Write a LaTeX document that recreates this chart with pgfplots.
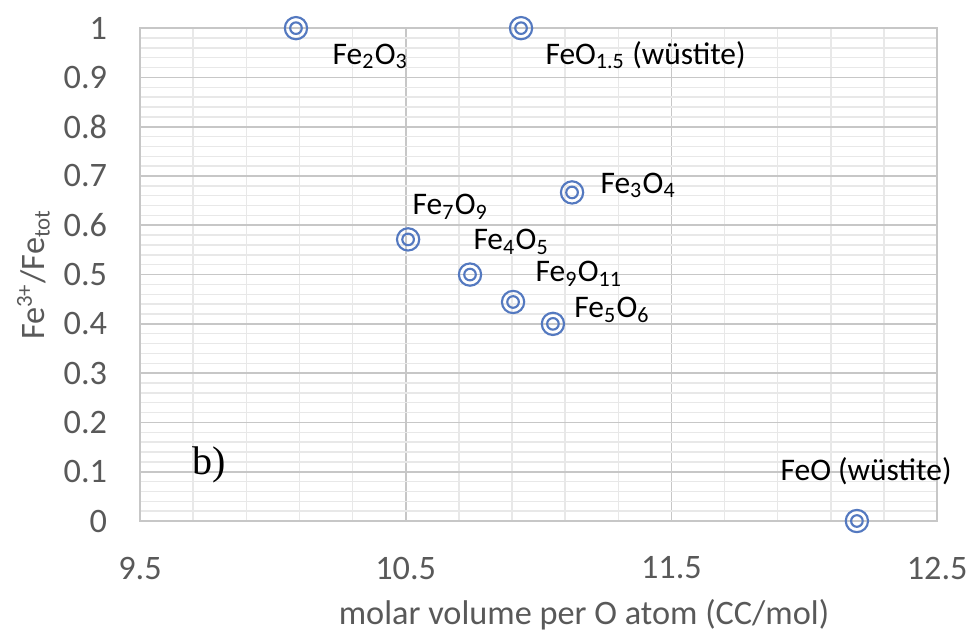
\documentclass[border=0pt]{standalone}
\usepackage{pgfplots}
\pgfplotsset{compat=1.18}
\usepackage{fontspec}
\setmainfont{Carlito}
\newfontfamily\serifb{Liberation Serif}
\usepackage{xcolor}
\definecolor{mblue}{HTML}{5479C0}
\definecolor{tickgray}{HTML}{595959}

\pgfdeclareplotmark{dcirc}{%
  \pgfpathcircle{\pgfpoint{0pt}{0pt}}{\pgfplotmarksize}\pgfusepathqstroke
  \pgfpathcircle{\pgfpoint{0pt}{0pt}}{0.52\pgfplotmarksize}\pgfusepathqstroke}

\begin{document}
\begin{tikzpicture}
\path[use as bounding box] (-49pt,-40.6pt) rectangle (290.5pt,182.35pt);
\begin{axis}[
  scale only axis, width=279pt, height=172.5pt,
  xmin=9.5, xmax=12.5, ymin=0, ymax=1,
  xtick={9.5,10.5,11.5,12.5}, ytick={0,0.1,...,1.01},
  minor x tick num=4, minor y tick num=4,
  grid=both,
  major grid style={color=black!22, line width=0.6pt},
  minor grid style={color=black!9, line width=0.5pt},
  axis line style={draw=black!22, line width=0.6pt},
  tick style={draw=none},
  tick label style={font=\fontsize{12}{14}\selectfont, text=tickgray},
  /pgf/number format/assume math mode=true,
  yticklabel style={xshift=-8pt},
  xticklabel style={yshift=-9pt},
  xlabel={molar volume per O atom (CC/mol)},
  ylabel={Fe\textsuperscript{3+}/Fe\textsubscript{tot}},
  label style={font=\fontsize{12}{14}\selectfont, text=tickgray},
  xlabel style={at={(rel axis cs:0.557,0)}, anchor=north, yshift=-24pt},
  ylabel style={yshift=-2pt},
  clip=false,
]
\addplot[only marks, mark=dcirc, mark size=3.9pt, mblue, line width=0.75pt] coordinates {
  (10.087,1) (10.934,1) (11.126,0.6667) (10.509,0.5714) (10.742,0.5)
  (10.904,0.4444) (11.054,0.4) (12.198,0)
};
\begin{scope}[font=\fontsize{11}{13}\selectfont]
\node[anchor=base west, inner sep=0pt] at (axis cs:10.223,0.927) {Fe\textsubscript{2}O\textsubscript{3}};
\node[anchor=base west, inner sep=0pt] at (axis cs:11.024,0.927) {FeO\textsubscript{1.5} (wüstite)};
\node[anchor=base west, inner sep=0pt] at (axis cs:11.231,0.665) {Fe\textsubscript{3}O\textsubscript{4}};
\node[anchor=base west, inner sep=0pt] at (axis cs:10.524,0.621) {Fe\textsubscript{7}O\textsubscript{9}};
\node[anchor=base west, inner sep=0pt] at (axis cs:10.753,0.550) {Fe\textsubscript{4}O\textsubscript{5}};
\node[anchor=base west, inner sep=0pt] at (axis cs:10.987,0.485) {Fe\textsubscript{9}O\textsubscript{11}};
\node[anchor=base west, inner sep=0pt] at (axis cs:11.133,0.412) {Fe\textsubscript{5}O\textsubscript{6}};
\node[anchor=base west, inner sep=0pt] at (axis cs:11.909,0.083) {FeO (wüstite)};
\end{scope}
\node[font=\serifb\fontsize{14}{16}\selectfont] at (axis cs:9.76,0.114) {b)};
\end{axis}
\end{tikzpicture}
\end{document}
